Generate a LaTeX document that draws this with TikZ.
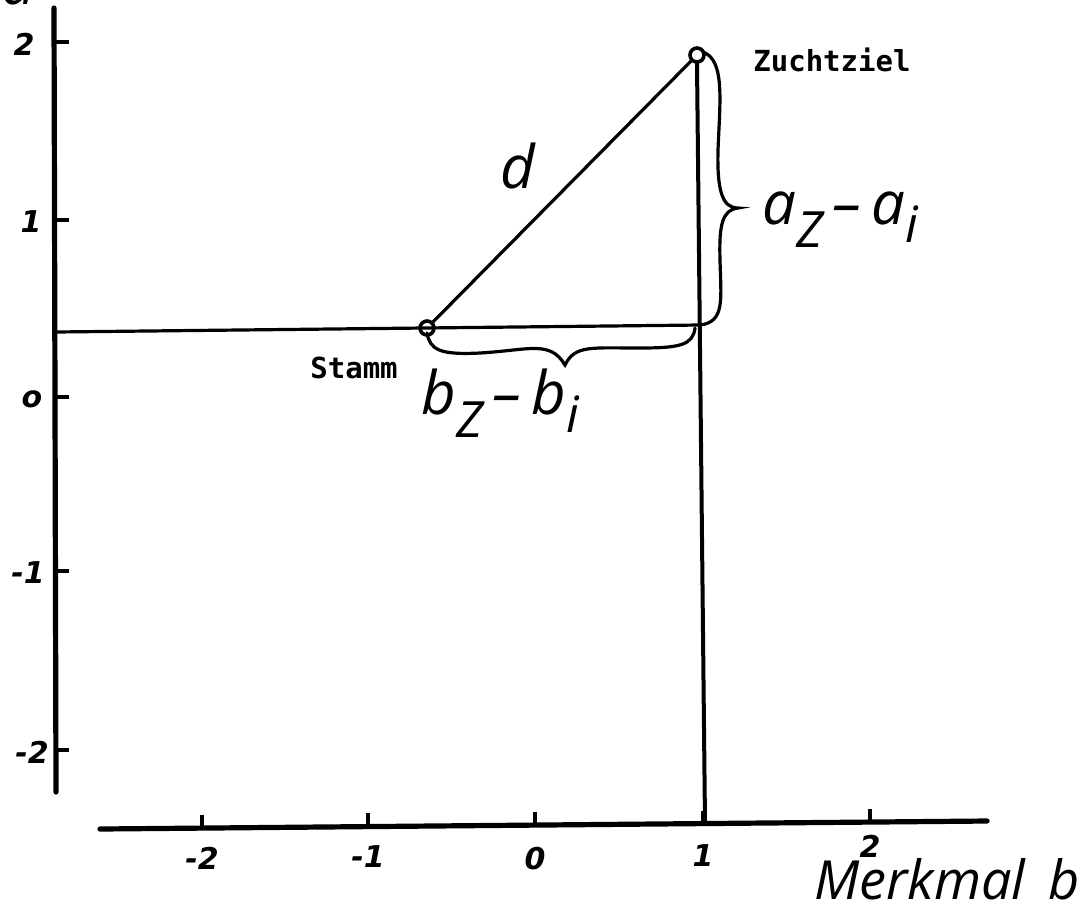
\documentclass[tikz,border=0pt]{standalone}
\usepackage{fontspec}
\setmainfont{Open Sans}
\newfontfamily\mono{DejaVu Sans Mono}
\newfontfamily\tick{DejaVu Sans}
\begin{document}
\begin{tikzpicture}[x=0.5pt,y=-0.5pt,
  axis/.style={line width=2.6pt,line cap=round},
  guide/.style={line width=1.6pt},
  tickmark/.style={line width=1.8pt},
  bracepath/.style={line width=1.6pt,line cap=round},
  pt/.style={circle,draw,line width=1.8pt,minimum size=7pt,inner sep=0pt},
  ticklab/.style={font=\tick\bfseries\itshape\fontsize{15}{15}\selectfont,inner sep=0pt},
  biglab/.style={font=\itshape\fontsize{30}{30}\selectfont,inner sep=0pt},
  smalllab/.style={font=\mono\bfseries\fontsize{14.5}{14.5}\selectfont,inner sep=0pt}]
\useasboundingbox (0,0) rectangle (1086,912);
% axes
\coordinate (Ytop) at (54,8);
\coordinate (Ybot) at (56,792);
\draw[axis] (Ytop) -- (Ybot);
\coordinate (Xl) at (100,829);
\coordinate (Xr) at (987,821);
\draw[axis] (Xl) -- (Xr);
\node[biglab] (alab) at (18,-12) {a};
% y ticks
\foreach \yy/\lab/\lx [count=\i] in {42/2/24,220/1/31,397/o/32,571/-1/28,750/-2/32}{
  \coordinate (yt\i) at (55,\yy);
  \coordinate (yte\i) at (69,\yy);
  \draw[tickmark] (yt\i) -- (yte\i);
  \node[ticklab] (yl\i) at (\lx,\yy+2) {\lab};
}
% x ticks
\foreach \xx/\yy/\lab/\ly [count=\i] in {202/828/-2/858,368/826/-1/857,535/825/0/859,703/824/1/856,870/822/2/846}{
  \coordinate (xt\i) at (\xx,\yy);
  \coordinate (xte\i) at (\xx,\yy-13);
  \draw[tickmark] (xt\i) -- (xte\i);
  \node[ticklab] (xl\i) at (\xx,\ly) {\lab};
}
% points
\node[pt] (Z) at (697,55) {};
\node[pt] (S) at (427,328) {};
\coordinate (H0) at (55,332);
\coordinate (H1) at (700,325);
\coordinate (Vb) at (705,823);
\draw[guide] (H0) -- (H1);
\draw[axis,line width=2pt] (Z.south) -- (Vb);
\draw[guide] (S) -- (Z);
% braces
\coordinate (rb0) at (703,52);
\coordinate (rb1) at (700,325);
\draw[bracepath] (rb0) .. controls (725,60) and (720,100) .. (718,150)
  .. controls (717,190) and (722,208) .. (738,208)
  .. controls (722,210) and (719,225) .. (720,260)
  .. controls (721,300) and (725,322) .. (rb1);
\coordinate (bb0) at (427,333);
\coordinate (bb1) at (695,328);
\draw[bracepath] (bb0) .. controls (430,350) and (440,355) .. (480,353)
  .. controls (530,350) and (550,340) .. (565,365)
  .. controls (575,345) and (590,348) .. (640,348)
  .. controls (680,348) and (693,345) .. (bb1);
% labels
\node[biglab] (d) at (518,166) {d};
\node[biglab,anchor=west] (azai) at (762,220) {a\raisebox{-0.38em}{\fontsize{25}{25}\selectfont Z}\,–\,a\raisebox{-0.3em}{\fontsize{25}{25}\selectfont i}};
\node[biglab,anchor=west] (bzbi) at (421,403) {b\raisebox{-0.38em}{\fontsize{25}{25}\selectfont Z}\,–\,b\raisebox{-0.3em}{\fontsize{25}{25}\selectfont i}};
\node[smalllab,anchor=west] (stamm) at (310,368) {Stamm};
\node[smalllab,anchor=west] (zz) at (753,60) {Zuchtziel};
\node[font=\itshape\fontsize{27}{27}\selectfont,inner sep=0pt,anchor=east] (mb) at (1080,879) {Merkmal\, b};
\end{tikzpicture}
\end{document}
